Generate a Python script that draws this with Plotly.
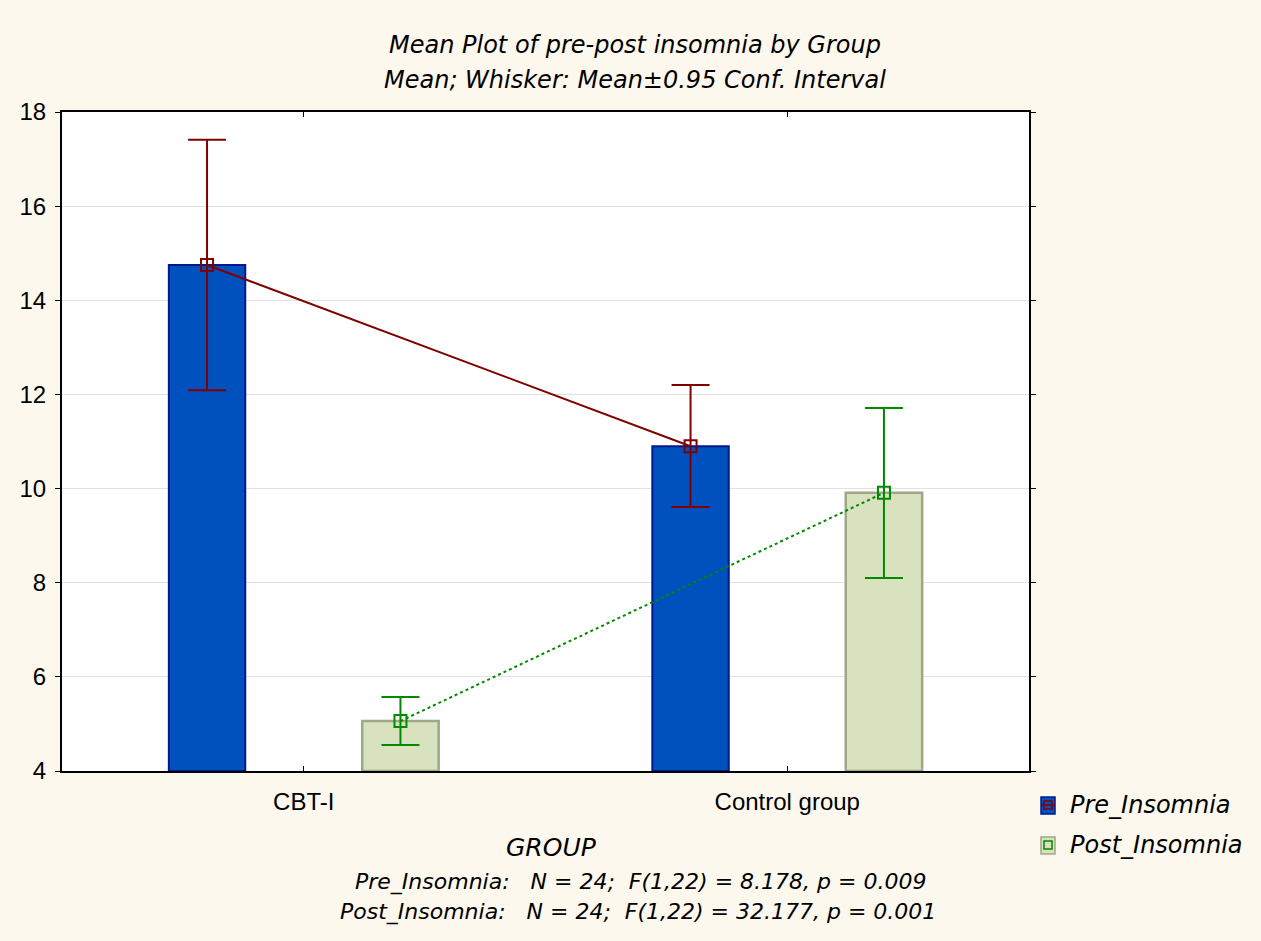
import plotly.graph_objects as go

# Data: group means and 95% confidence limits
groups = ["CBT-I", "Control group"]
pre_mean = [14.75, 10.90]
pre_upper = [17.41, 12.20]
pre_lower = [12.09, 9.61]
post_mean = [5.06, 9.91]
post_upper = [5.57, 11.71]
post_lower = [4.55, 8.10]

y_ticks = [4, 6, 8, 10, 12, 14, 16, 18]

# Layout constants (pixels)
W, H = 1261, 941
L, R, T, B = 62, 1029, 112, 771
OFFSET = 0.2      # horizontal shift of each series within a group
BAR_W = 0.158

PRE_FILL, PRE_EDGE, PRE_LINE = "#0050BE", "#00188C", "#800000"
POST_FILL, POST_EDGE, POST_LINE = "#D8E2BF", "#9EA787", "#008A00"
BG = "#FDF8EE"
FONT_IT = "DejaVu Sans"

idx = list(range(len(groups)))
x_pre = [i - OFFSET for i in idx]
x_post = [i + OFFSET for i in idx]

fig = go.Figure()

fig.add_trace(go.Bar(
    x=x_pre, y=[m - 4 for m in pre_mean], base=4, width=BAR_W,
    marker=dict(color=PRE_FILL, line=dict(color=PRE_EDGE, width=2)),
    showlegend=False, hoverinfo="skip"))
fig.add_trace(go.Bar(
    x=x_post, y=[m - 4 for m in post_mean], base=4, width=BAR_W,
    marker=dict(color=POST_FILL, line=dict(color=POST_EDGE, width=2.5)),
    showlegend=False, hoverinfo="skip"))

fig.add_trace(go.Scatter(
    x=x_pre, y=pre_mean, mode="lines+markers",
    line=dict(color=PRE_LINE, width=2),
    marker=dict(symbol="square-open", size=12, color=PRE_LINE, line=dict(width=2)),
    error_y=dict(type="data", symmetric=False,
                 array=[u - m for u, m in zip(pre_upper, pre_mean)],
                 arrayminus=[m - l for l, m in zip(pre_lower, pre_mean)],
                 color=PRE_LINE, thickness=2, width=19),
    showlegend=False))
fig.add_trace(go.Scatter(
    x=x_post, y=post_mean, mode="lines+markers",
    line=dict(color=POST_LINE, width=2, dash="dot"),
    marker=dict(symbol="square-open", size=12, color=POST_LINE, line=dict(width=2)),
    error_y=dict(type="data", symmetric=False,
                 array=[u - m for u, m in zip(post_upper, post_mean)],
                 arrayminus=[m - l for l, m in zip(post_lower, post_mean)],
                 color=POST_LINE, thickness=2, width=19),
    showlegend=False))


def px_x(p):
    return (p - L) / (R - L)


def px_y(p):
    return (B - p) / (B - T)


text_items = [
    ("Mean Plot of pre-post insomnia by Group", 635, 45, 24),
    ("Mean; Whisker: Mean\u00b10.95 Conf. Interval", 635, 80, 24),
    ("GROUP", 551, 847, 25),
    ("Pre_Insomnia:   N = 24;  F(1,22) = 8.178, p = 0.009", 640, 882, 22),
    ("Post_Insomnia:   N = 24;  F(1,22) = 32.177, p = 0.001", 638, 912, 22),
]
annotations = []
for txt, xp, yp, fs in text_items:
    annotations.append(dict(text=txt, x=px_x(xp), y=px_y(yp), xref="paper", yref="paper",
                            showarrow=False, xanchor="center", yanchor="middle",
                            font=dict(family=FONT_IT, size=fs, color="#000000", style="italic")))

# Legend entries drawn as swatches with a marker inside
legend_items = [("Pre_Insomnia", PRE_FILL, PRE_EDGE, PRE_LINE, 805),
                ("Post_Insomnia", POST_FILL, POST_EDGE, POST_LINE, 845)]
shapes = []
for name, fill, edge, mk, yc in legend_items:
    shapes.append(dict(type="rect", xref="paper", yref="paper",
                       x0=px_x(1041), x1=px_x(1055), y0=px_y(yc + 9), y1=px_y(yc - 8),
                       fillcolor=fill, line=dict(color=edge, width=1.5)))
    shapes.append(dict(type="rect", xref="paper", yref="paper",
                       x0=px_x(1044), x1=px_x(1052), y0=px_y(yc + 4), y1=px_y(yc - 4),
                       fillcolor="rgba(0,0,0,0)", line=dict(color=mk, width=1.5)))
    if name == "Pre_Insomnia":
        shapes.append(dict(type="line", xref="paper", yref="paper",
                           x0=px_x(1041), x1=px_x(1055), y0=px_y(yc), y1=px_y(yc),
                           line=dict(color=mk, width=1.5)))
    annotations.append(dict(text=name, xref="paper", yref="paper", showarrow=False,
                            x=px_x(1068), y=px_y(yc), xanchor="left", yanchor="middle",
                            font=dict(family=FONT_IT, size=24, color="#000000", style="italic")))

fig.update_layout(
    width=W, height=H,
    margin=dict(l=L, r=W - R, t=T, b=H - B, autoexpand=False),
    paper_bgcolor=BG, plot_bgcolor="#FFFFFF",
    barmode="overlay",
    showlegend=False,
    annotations=annotations,
    shapes=shapes,
    font=dict(family="Liberation Sans", size=24, color="#000000"),
)
fig.update_xaxes(
    range=[-0.5, 1.5], tickvals=idx, ticktext=groups,
    showgrid=False, zeroline=False,
    showline=True, linecolor="#000000", linewidth=2, mirror="ticks",
    ticks="inside", ticklen=5, tickcolor="#000000", tickwidth=1,
    tickfont=dict(size=24), ticklabelstandoff=8)
fig.update_yaxes(
    range=[4, 18], tickvals=y_ticks, showgrid=True, gridcolor="#E2E2E2", gridwidth=1,
    zeroline=False, showline=True, linecolor="#000000", linewidth=2, mirror="ticks",
    ticks="outside", ticklen=5, tickcolor="#000000", tickwidth=1,
    tickfont=dict(size=24), ticklabelstandoff=4)

fig.write_html("out.html")
